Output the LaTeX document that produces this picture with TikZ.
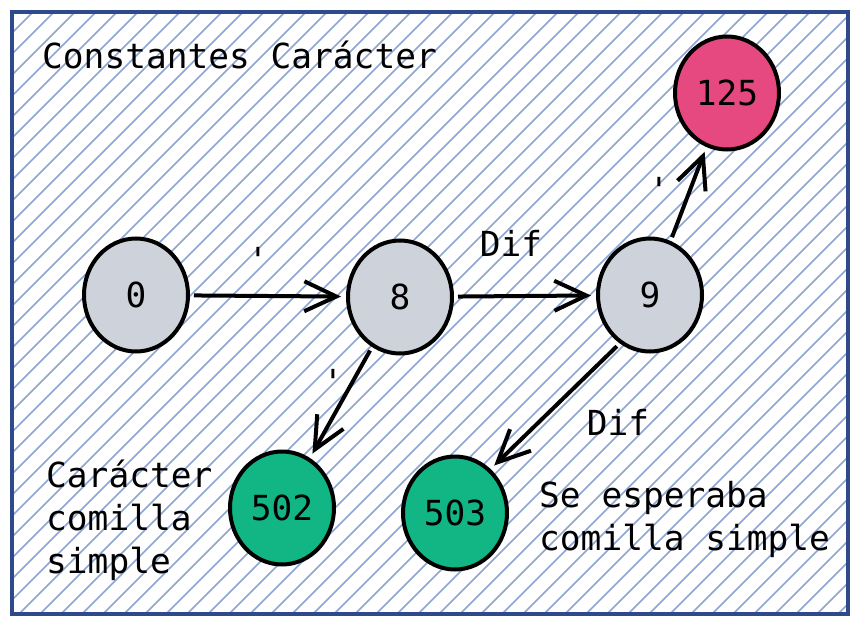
\documentclass[tikz,border=0pt]{standalone}
\usepackage{fontspec}
\usetikzlibrary{shapes.geometric,arrows.meta}
\newfontfamily\monof{DejaVu Sans Mono}
\definecolor{frameblue}{HTML}{2F4A8A}
\definecolor{hatchc}{HTML}{8EA4D4}
\definecolor{stgray}{HTML}{CED3DB}
\definecolor{stgreen}{HTML}{12B584}
\definecolor{stpink}{HTML}{E64880}
\tikzset{
  txt/.style={font=\monof\fontsize{34.5}{43}\selectfont, inner sep=0pt},
  state/.style={ellipse, draw=black, line width=4pt, minimum width=104pt, minimum height=113pt, inner sep=0pt, txt},
  conn/.style={line width=4pt, -{Straight Barb[length=32pt,width=30pt,line width=4pt]}, shorten <=4pt, shorten >=5pt},
}
\begin{document}
\begin{tikzpicture}[x=1pt,y=-1pt]
\useasboundingbox (0,0) rectangle (859,626);
\begin{scope}
  \clip (12,12) rectangle (848,614);
  \fill[white] (12,12) rectangle (848,614);
  \foreach \i in {0,...,70} {
    \draw[hatchc, line width=1.6pt] ({12-602+\i*21}, 614) -- ++(602,-602);
  }
\end{scope}
\draw[frameblue, line width=3.5pt] (12,12) rectangle (848,614);

\node[txt, anchor=base west] (title) at (42,68) {Constantes Carácter};

\node[state, fill=stgray] (q0) at (136,295) {0};
\node[state, fill=stgray] (q8) at (400,297) {8};
\node[state, fill=stgray] (q9) at (650,295) {9};
\node[state, fill=stpink] (q125) at (727,93) {125};
\node[state, fill=stgreen] (q502) at (282,508) {502};
\node[state, fill=stgreen] (q503) at (455,513) {503};

\draw[conn] (q0) -- (q8);
\draw[conn] (q8) -- (q9);
\draw[conn] (q9) -- (q125);
\draw[conn] (q8) -- (q502);
\draw[conn] (q9.238) -- (q503.51);

\node[txt, anchor=base] (l08) at (258,272) {\char"27};
\node[txt, anchor=base] (l89) at (511,256) {Dif};
\node[txt, anchor=base] (l9a) at (659,202) {\char"27};
\node[txt, anchor=base] (l8b) at (333,394) {\char"27};
\node[txt, anchor=base] (l9b) at (618,435) {Dif};

\node[txt, anchor=base west] (c1) at (46,487) {Carácter};
\node[txt, anchor=base west] (c2) at (46,530) {comilla};
\node[txt, anchor=base west] (c3) at (46,573) {simple};

\node[txt, anchor=base west] (s1) at (539,507) {Se esperaba};
\node[txt, anchor=base west] (s2) at (539,550) {comilla simple};
\end{tikzpicture}
\end{document}
